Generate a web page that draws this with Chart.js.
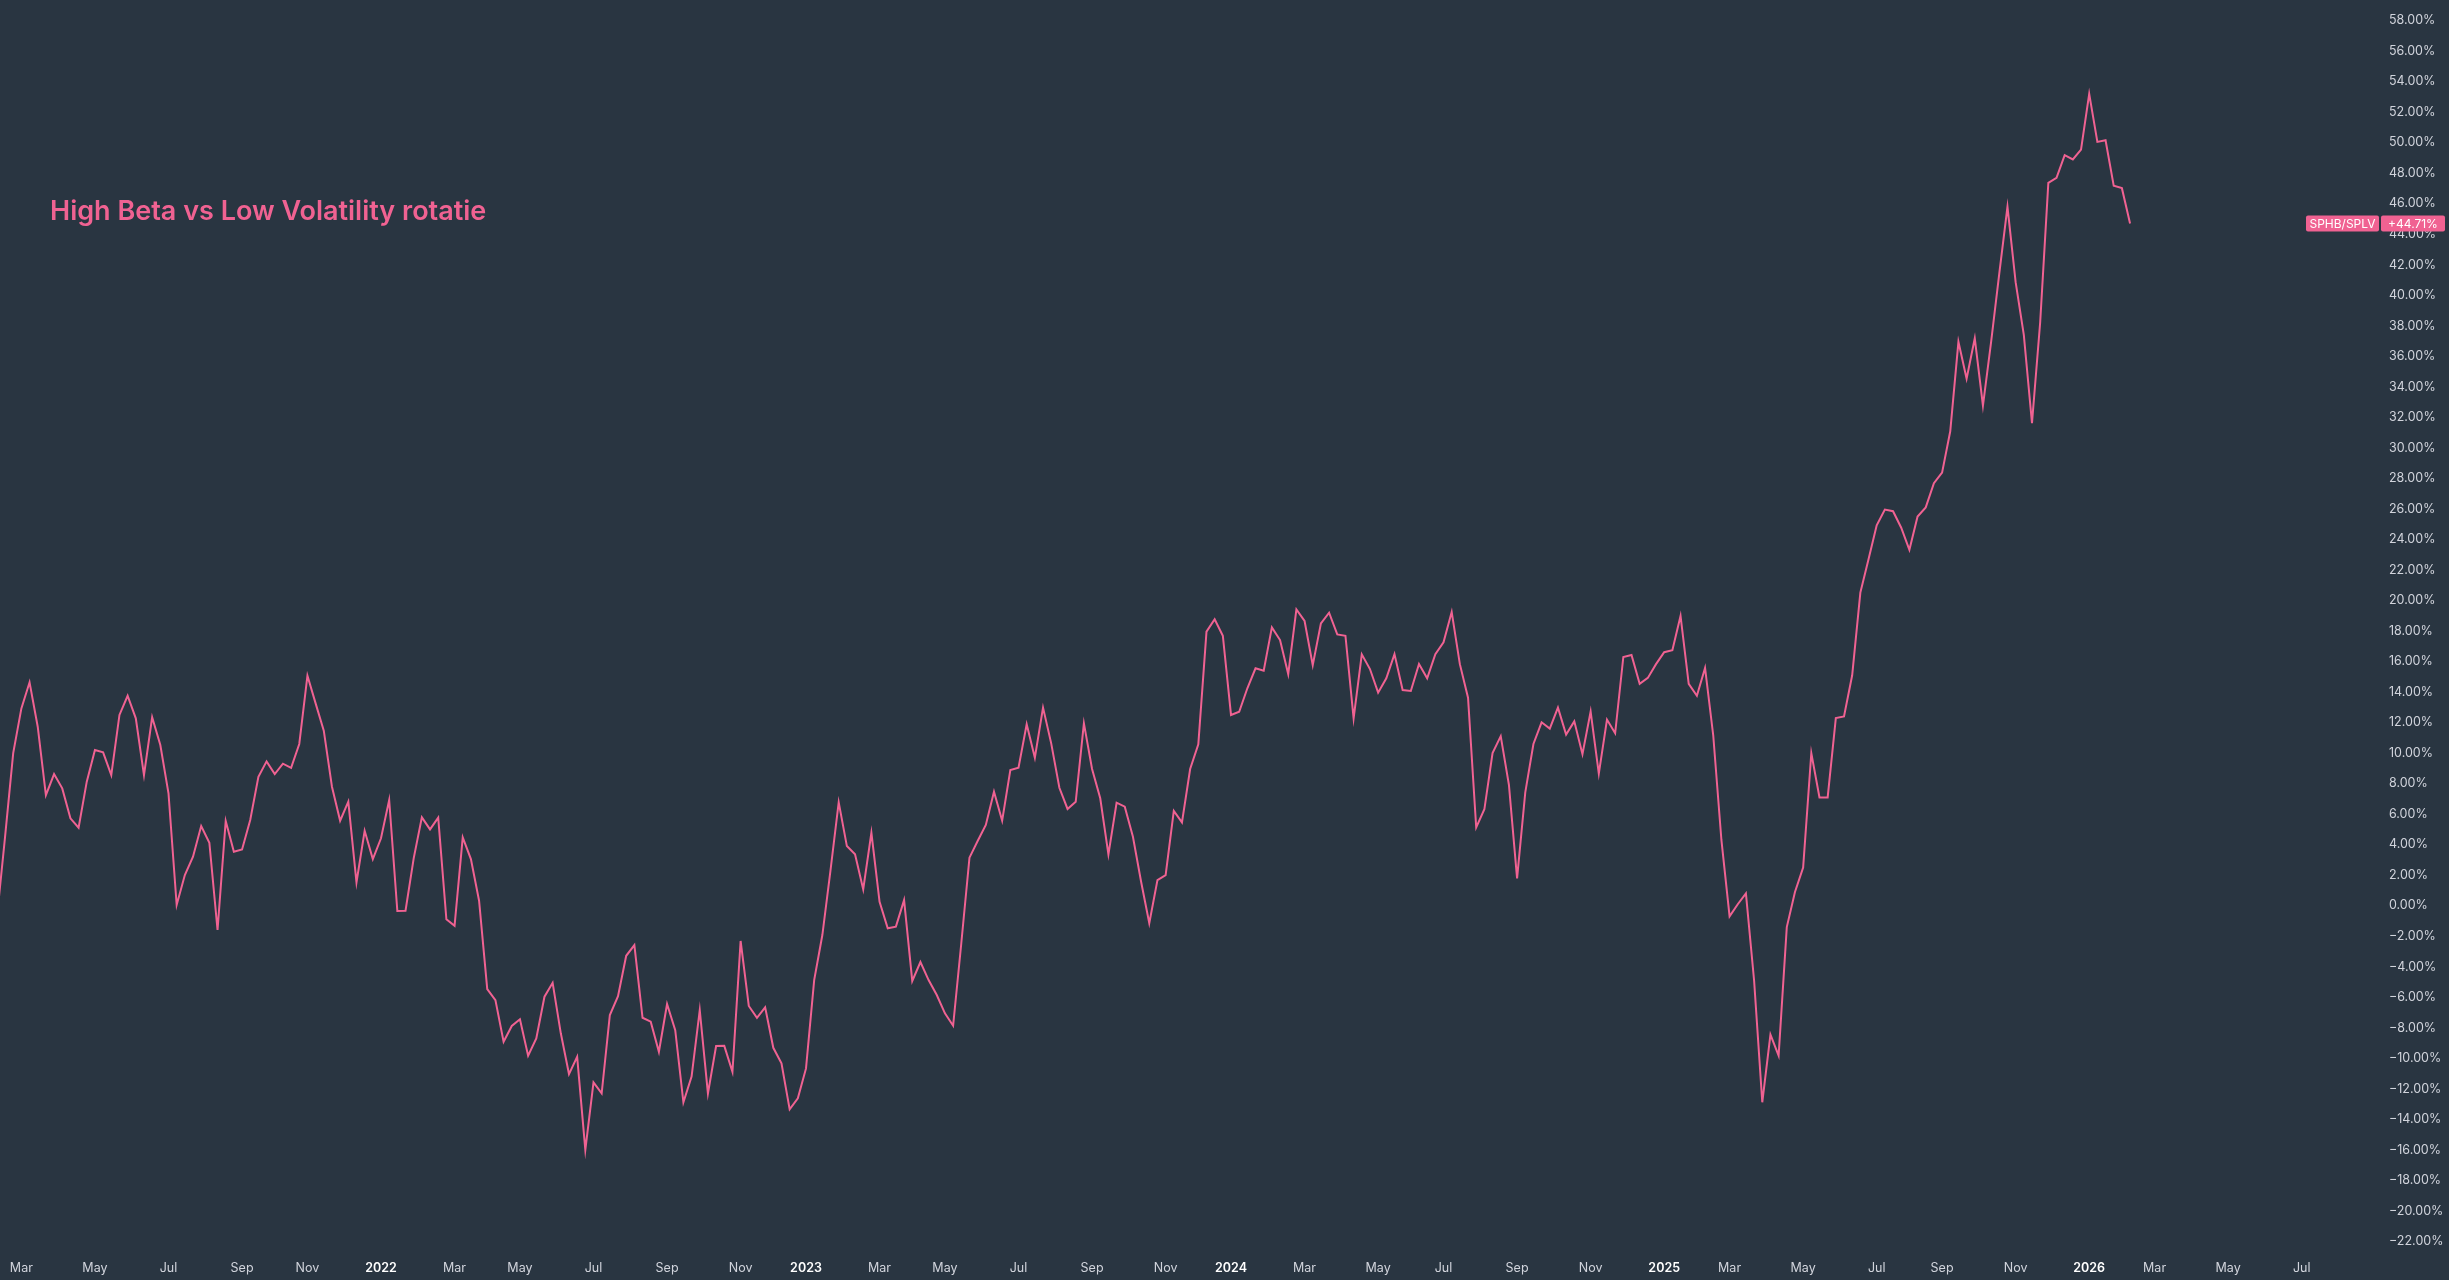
<!DOCTYPE html>
<html>
<head>
<meta charset="utf-8">
<title>High Beta vs Low Volatility rotatie</title>
<script src="https://cdn.jsdelivr.net/npm/chart.js@4.4.1/dist/chart.umd.min.js"></script>
<style>
  html, body { margin: 0; padding: 0; background: #293541; }
  #wrap { width: 2449px; height: 1280px; position: relative; }
</style>
</head>
<body>
<div id="wrap"><canvas id="chart"></canvas></div>
<script>
// SPHB/SPLV weekly, % change since start of range
const seriesName = 'SPHB/SPLV';
const firstWeek = '2021-02-08';
const ratioValues = [
  -0.8,
  4.5, 10.0, 12.93, 14.64, 11.73, 7.25, 8.63, 7.69, 5.73, 5.11,
  8.13, 10.2, 10.05, 8.56, 12.5, 13.76, 12.28, 8.56, 12.35, 10.53,
  7.37, 0.05, 2.01, 3.21, 5.22, 4.13, -1.59, 5.55, 3.54, 3.69,
  5.62, 8.45, 9.46, 8.63, 9.31, 9.04, 10.6, 15.07, 13.26, 11.47,
  7.8, 5.57, 6.82, 1.53, 4.91,
  // 2022
  3.06, 4.42, 6.93, -0.35, -0.33, 3.1, 5.79, 5.0, 5.77, -0.89,
  -1.31, 4.48, 3.06, 0.33, -5.46, -6.18, -8.91, -7.88, -7.44, -9.83,
  -8.69, -5.96, -5.05, -8.36, -11.03, -9.9, -16.0, -11.57, -12.3, -7.16,
  -5.92, -3.28, -2.58, -7.34, -7.6, -9.57, -6.44, -8.15, -12.88, -11.2,
  -6.84, -12.3, -9.19, -9.18,
  // 2023
  -10.88, -2.31, -6.57, -7.34, -6.66, -9.31, -10.33, -13.34, -12.62, -10.66,
  -4.87, -1.92, 2.34, 6.78, 3.91, 3.37, 1.07, 4.78, 0.26, -1.48,
  -1.37, 0.37, -4.93, -3.69, -4.87, -5.85, -7.05, -7.86, -2.46, 3.15,
  4.24, 5.29, 7.47, 5.57, 8.89, 9.04, 11.89, 9.7, 12.98, 10.64,
  7.73, 6.34, 6.82,
  // 2024
  11.95, 8.96, 7.04, 3.37, 6.75, 6.49, 4.52, 1.57, -1.15, 1.68,
  2.01, 6.21, 5.46, 8.96, 10.58, 17.96, 18.77, 17.69, 12.5, 12.71,
  14.25, 15.56, 15.4, 18.24, 17.41, 15.18, 19.42, 18.66, 15.77, 18.5,
  19.2, 17.78, 17.69, 12.28, 16.47, 15.51, 13.96, 14.9, 16.49, 14.13,
  14.07, 15.84, 14.9,
  // 2024 Q4 - 2025
  16.48, 17.26, 19.25, 15.83, 13.63, 5.13, 6.32, 10.0, 11.11, 7.93,
  1.79, 7.41, 10.6, 12.02, 11.61, 12.98, 11.22, 12.08, 9.93, 12.72,
  8.66, 12.2, 11.3, 16.3, 16.43, 14.54, 14.93, 15.83, 16.61, 16.74,
  18.99, 14.54, 13.76, 15.58, 11.17, 4.31, -0.7, 0.1, 0.81, -4.9,
  -12.88, -8.45, -9.82, -1.4,
  0.9, 2.5, 10.0, 7.1, 7.1, 12.3, 12.4, 15.1,
  20.52, 22.7, 24.93, 25.96, 25.85, 24.77, 23.32, 25.5, 26.1, 27.69,
  28.38, 31.09, 36.95, 34.54, 37.18, 32.77, 36.95, 41.43, 45.8, 40.86,
  37.41, 31.62, 38.22, 47.37, 47.69, 49.18, 48.9, 49.55, 53.2, 50.05,
  50.16, 47.18, 47.02, 44.71
];

const yTicks = [
  -22, -20, -18, -16, -14, -12, -10, -8, -6, -4, -2, 0,
  2, 4, 6, 8, 10, 12, 14, 16, 18, 20, 22, 24, 26, 28, 30,
  32, 34, 36, 38, 40, 42, 44, 46, 48, 50, 52, 54, 56, 58
];

const xTickDates = [
  '2021-03-01', '2021-05-03', '2021-07-05', '2021-09-06', '2021-11-01',
  '2022-01-03', '2022-03-07', '2022-05-02', '2022-07-04', '2022-09-05', '2022-11-07',
  '2023-01-02', '2023-03-06', '2023-05-01', '2023-07-03', '2023-09-04', '2023-11-06',
  '2024-01-01', '2024-03-04', '2024-05-06', '2024-07-01', '2024-09-02', '2024-11-04',
  '2025-01-06', '2025-03-03', '2025-05-05', '2025-07-07', '2025-09-01', '2025-11-03',
  '2026-01-05', '2026-03-02', '2026-05-04', '2026-07-06'
];
const xTickLabels = [
  'Mar', 'May', 'Jul', 'Sep', 'Nov',
  '2022', 'Mar', 'May', 'Jul', 'Sep', 'Nov',
  '2023', 'Mar', 'May', 'Jul', 'Sep', 'Nov',
  '2024', 'Mar', 'May', 'Jul', 'Sep', 'Nov',
  '2025', 'Mar', 'May', 'Jul', 'Sep', 'Nov',
  '2026', 'Mar', 'May', 'Jul'
];

const PINK = '#f06292';
const BG = '#293541';
const TEXT = '#d1d4dc';

const dayNum = s => Date.parse(s + 'T00:00:00Z') / 86400000;

// visible window of the time axis
const PX_PER_DAY = 1.1676;
const PLOT_W = 2385;
const X_MIN = dayNum('2022-01-03') - 381 / PX_PER_DAY;
const X_MAX = X_MIN + PLOT_W / PX_PER_DAY;

const points = ratioValues.map((v, i) => ({ x: dayNum(firstWeek) + 7 * i, y: v }));
const lastValue = ratioValues[ratioValues.length - 1];

const fmtPct = v => (v < 0 ? '\u2212' : '') + Math.abs(v).toFixed(2) + '%';

// no extra room around the axes: the plot runs to the canvas edge
function noPadding(scale) {
    scale.paddingTop = 0;
    scale.paddingBottom = 0;
    scale.paddingLeft = 0;
    scale.paddingRight = 0;
}

const overlay = {
    id: 'overlay',
    beforeDraw(chart) {
        const { ctx, width, height } = chart;
        ctx.save();
        ctx.fillStyle = BG;
        ctx.fillRect(0, 0, width, height);
        ctx.restore();
    },
    afterDraw(chart) {
        const { ctx } = chart;
        ctx.save();
        // title
        ctx.fillStyle = PINK;
        ctx.font = '600 27px Inter, "Noto Sans", sans-serif';
        ctx.textAlign = 'left';
        ctx.textBaseline = 'alphabetic';
        ctx.fillText('High Beta vs Low Volatility rotatie', 50, 220);

        // last value tags on the price scale
        const y = chart.scales.y.getPixelForValue(lastValue);
        const boxes = [
            { x: 2306, w: 73, text: seriesName },
            { x: 2381, w: 64, text: '+' + lastValue.toFixed(2) + '%' }
        ];
        ctx.font = '12px Inter, "Noto Sans", sans-serif';
        ctx.textAlign = 'center';
        ctx.textBaseline = 'middle';
        boxes.forEach(b => {
            ctx.fillStyle = PINK;
            ctx.beginPath();
            ctx.roundRect(b.x, y - 8, b.w, 16, 2);
            ctx.fill();
            ctx.fillStyle = '#ffffff';
            ctx.fillText(b.text, b.x + b.w / 2, y + 0.5);
        });
        ctx.restore();
    }
};

Chart.defaults.font.family = 'Inter, "Noto Sans", sans-serif';

new Chart(document.getElementById('chart'), {
    type: 'line',
    data: {
        datasets: [{
            label: seriesName,
            data: points,
            borderColor: PINK,
            borderWidth: 2,
            pointRadius: 0,
            tension: 0,
            fill: false
        }]
    },
    options: {
        responsive: true,
        maintainAspectRatio: false,
        animation: false,
        layout: { padding: 0 },
        plugins: {
            legend: { display: false },
            tooltip: { enabled: false }
        },
        scales: {
            x: {
                type: 'linear',
                min: X_MIN,
                max: X_MAX,
                grid: { display: false, drawTicks: false },
                border: { display: false },
                afterFit(scale) {
                    scale.height = 28;
                    noPadding(scale);
                },
                afterBuildTicks(scale) {
                    scale.ticks = xTickDates.map(d => ({ value: dayNum(d) }));
                },
                ticks: {
                    autoSkip: false,
                    maxRotation: 0,
                    padding: 9,
                    callback: (v, i) => xTickLabels[i],
                    color: ctx => /^\d{4}$/.test(xTickLabels[ctx.index]) ? '#ffffff' : TEXT,
                    font: ctx => ({
                        size: 12.5,
                        weight: /^\d{4}$/.test(xTickLabels[ctx.index]) ? '600' : '400'
                    })
                }
            },
            y: {
                position: 'right',
                min: -22.69,
                max: 59.35,
                grid: { display: false, drawTicks: false },
                border: { display: false },
                afterFit(scale) {
                    scale.width = 2449 - PLOT_W;
                    noPadding(scale);
                },
                afterBuildTicks(scale) {
                    scale.ticks = yTicks.map(v => ({ value: v }));
                },
                ticks: {
                    padding: 4,
                    color: TEXT,
                    font: { size: 12.5 },
                    callback: v => fmtPct(v)
                }
            }
        }
    },
    plugins: [overlay]
});
</script>
</body>
</html>
